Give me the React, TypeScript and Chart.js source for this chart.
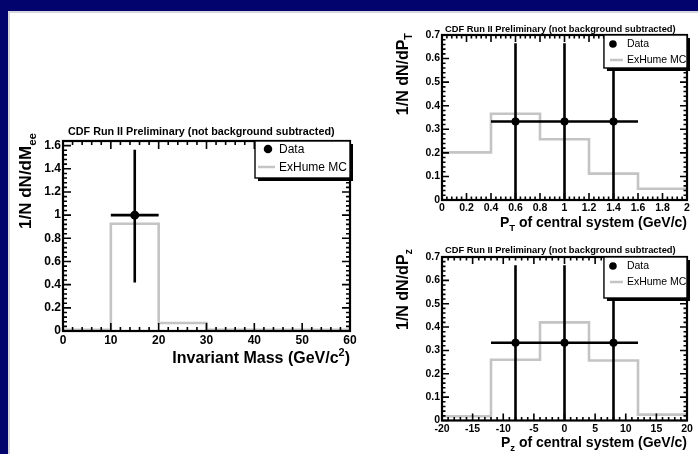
import React, { useEffect, useRef } from "react";
import { Chart, registerables } from "chart.js";

Chart.register(...registerables);

// ---------------- Panel 1 : invariant mass ----------------
const massBinEdges = [0, 10, 20, 30, 40, 50, 60];
const massMCValues = [0.01, 0.926, 0.069, 0.01, 0.01, 0.01];
const massDataX = [15];
const massDataY = [1.0];
const massDataXLow = [10];
const massDataXHigh = [20];
const massDataYLow = [0.418];
const massDataYHigh = [1.565];
const massXTicks = [0, 10, 20, 30, 40, 50, 60];
const massXTickLabels = ["0", "10", "20", "30", "40", "50", "60"];
const massYTicks = [0, 0.2, 0.4, 0.6, 0.8, 1, 1.2, 1.4, 1.6];
const massYTickLabels = ["0", "0.2", "0.4", "0.6", "0.8", "1", "1.2", "1.4", "1.6"];

// ---------------- Panel 2 : PT of central system ----------------
const ptBinEdges = [0, 0.4, 0.8, 1.2, 1.6, 2.0];
const ptMCValues = [0.202, 0.366, 0.258, 0.112, 0.048];
const ptDataX = [0.6, 1.0, 1.4];
const ptDataY = [0.333, 0.333, 0.333];
const ptDataXLow = [0.4, 0.8, 1.2];
const ptDataXHigh = [0.8, 1.2, 1.6];
const ptDataYLow = [0, 0, 0];
const ptDataYHigh = [0.665, 0.665, 0.665];
const ptXTicks = [0, 0.2, 0.4, 0.6, 0.8, 1, 1.2, 1.4, 1.6, 1.8, 2];
const ptXTickLabels = ["0", "0.2", "0.4", "0.6", "0.8", "1", "1.2", "1.4", "1.6", "1.8", "2"];
const ptYTicks = [0, 0.1, 0.2, 0.3, 0.4, 0.5, 0.6, 0.7];
const ptYTickLabels = ["0", "0.1", "0.2", "0.3", "0.4", "0.5", "0.6", "0.7"];

// ---------------- Panel 3 : Pz of central system ----------------
const pzBinEdges = [-20, -12, -4, 4, 12, 20];
const pzMCValues = [0.018, 0.26, 0.42, 0.257, 0.025];
const pzDataX = [-8, 0, 8];
const pzDataY = [0.333, 0.333, 0.333];
const pzDataXLow = [-12, -4, 4];
const pzDataXHigh = [-4, 4, 12];
const pzDataYLow = [0, 0, 0];
const pzDataYHigh = [0.665, 0.665, 0.665];
const pzXTicks = [-20, -15, -10, -5, 0, 5, 10, 15, 20];
const pzXTickLabels = ["-20", "-15", "-10", "-5", "0", "5", "10", "15", "20"];
const pzYTicks = [0, 0.1, 0.2, 0.3, 0.4, 0.5, 0.6, 0.7];
const pzYTickLabels = ["0", "0.1", "0.2", "0.3", "0.4", "0.5", "0.6", "0.7"];

const plotTitle = "CDF Run II Preliminary (not background subtracted)";
const legendDataLabel = "Data";
const legendMCLabel = "ExHume MC";

const FAM = "'Liberation Sans', Arial, Helvetica, sans-serif";
const MC_COLOR = "#c4c4c4";

type Seg = { text: string; kind?: "sub" | "sup" };

interface PanelCfg {
  edges: number[];
  mc: number[];
  dx: number[];
  dy: number[];
  dxl: number[];
  dxh: number[];
  dyl: number[];
  dyh: number[];
  xTicks: number[];
  xTickLabels: string[];
  yTicks: number[];
  yTickLabels: string[];
  xMin: number;
  xMax: number;
  yMin: number;
  yMax: number;
  xMinor: number;
  yMinor: number;
  padding: { left: number; right: number; top: number; bottom: number };
  tickSize: number;
  majorLen: number;
  minorLen: number;
  pointRadius: number;
  title: { x0: number; x1: number; y: number };
  xTitle: Seg[];
  xTitleSize: number;
  xTitleRight: number;
  xTitleBase: number;
  yTitle: Seg[];
  yTitleSize: number;
  yTitleBase: number;
  yTitleTop: number;
  legend: {
    fx0: number;
    h: number;
    row1: number;
    row2: number;
    marker: number;
    line0: number;
    line1: number;
    text: number;
    size: number;
  };
}

function drawRich(
  ctx: CanvasRenderingContext2D,
  segs: Seg[],
  size: number,
  ax: number,
  ay: number,
  rotated: boolean
) {
  const fontFor = (s: Seg) => `bold ${s.kind ? size * 0.68 : size}px ${FAM}`;
  let total = 0;
  const widths: number[] = [];
  for (const s of segs) {
    ctx.font = fontFor(s);
    const w = ctx.measureText(s.text).width;
    widths.push(w);
    total += w;
  }
  ctx.save();
  ctx.translate(ax, ay);
  if (rotated) ctx.rotate(-Math.PI / 2);
  ctx.fillStyle = "#000";
  ctx.textAlign = "left";
  ctx.textBaseline = "alphabetic";
  let x = -total;
  segs.forEach((s, i) => {
    ctx.font = fontFor(s);
    const dy = s.kind === "sub" ? size * 0.28 : s.kind === "sup" ? -size * 0.45 : 0;
    ctx.fillText(s.text, x, dy);
    x += widths[i];
  });
  ctx.restore();
}

function makePlugin(cfg: PanelCfg) {
  return {
    id: "rootStyle",
    afterDatasetsDraw(chart: any) {
      const ctx: CanvasRenderingContext2D = chart.ctx;
      const xs = chart.scales.x;
      const ys = chart.scales.y;
      ctx.save();
      ctx.strokeStyle = "#000";
      ctx.lineWidth = 2.6;
      ctx.lineCap = "butt";
      cfg.dx.forEach((xv, i) => {
        const px = xs.getPixelForValue(xv);
        const py = ys.getPixelForValue(cfg.dy[i]);
        ctx.beginPath();
        ctx.moveTo(xs.getPixelForValue(cfg.dxl[i]), py);
        ctx.lineTo(xs.getPixelForValue(cfg.dxh[i]), py);
        ctx.moveTo(px, ys.getPixelForValue(cfg.dyl[i]));
        ctx.lineTo(px, ys.getPixelForValue(cfg.dyh[i]));
        ctx.stroke();
      });
      ctx.restore();
    },
    afterDraw(chart: any) {
      const ctx: CanvasRenderingContext2D = chart.ctx;
      const xs = chart.scales.x;
      const ys = chart.scales.y;
      const { left, right, top, bottom } = chart.chartArea;
      ctx.save();
      ctx.strokeStyle = "#000";
      ctx.lineWidth = 1.6;
      // ticks (inward, mirrored on all sides)
      const near = (v: number, arr: number[]) => arr.some((a) => Math.abs(a - v) < 1e-6);
      ctx.beginPath();
      const nx = Math.round((cfg.xMax - cfg.xMin) / cfg.xMinor);
      for (let k = 0; k <= nx; k++) {
        const v = cfg.xMin + k * cfg.xMinor;
        const len = near(v, cfg.xTicks) ? cfg.majorLen : cfg.minorLen;
        const p = xs.getPixelForValue(v);
        ctx.moveTo(p, bottom);
        ctx.lineTo(p, bottom - len);
        ctx.moveTo(p, top);
        ctx.lineTo(p, top + len);
      }
      const ny = Math.round((cfg.yMax - cfg.yMin) / cfg.yMinor);
      for (let k = 0; k <= ny; k++) {
        const v = cfg.yMin + k * cfg.yMinor;
        if (v > cfg.yMax + 1e-9) break;
        const len = near(v, cfg.yTicks) ? cfg.majorLen : cfg.minorLen;
        const p = ys.getPixelForValue(v);
        ctx.moveTo(left, p);
        ctx.lineTo(left + len, p);
        ctx.moveTo(right, p);
        ctx.lineTo(right - len, p);
      }
      ctx.stroke();
      // frame
      ctx.lineWidth = 2.2;
      ctx.strokeRect(left, top, right - left, bottom - top);

      // legend
      const L = cfg.legend;
      const lx0 = left + L.fx0 * (right - left);
      const lx1 = right;
      const ly0 = top;
      const ly1 = top + L.h;
      ctx.fillStyle = "#000";
      ctx.fillRect(lx0 + 3, ly0 + 3, lx1 - lx0, ly1 - ly0);
      ctx.fillStyle = "#fff";
      ctx.fillRect(lx0, ly0, lx1 - lx0, ly1 - ly0);
      ctx.lineWidth = 1.4;
      ctx.strokeRect(lx0, ly0, lx1 - lx0, ly1 - ly0);
      ctx.fillStyle = "#000";
      ctx.beginPath();
      ctx.arc(lx0 + L.marker, ly0 + L.row1, cfg.pointRadius * 0.95, 0, Math.PI * 2);
      ctx.fill();
      ctx.strokeStyle = MC_COLOR;
      ctx.lineWidth = 2.5;
      ctx.beginPath();
      ctx.moveTo(lx0 + L.line0, ly0 + L.row2);
      ctx.lineTo(lx0 + L.line1, ly0 + L.row2);
      ctx.stroke();
      ctx.fillStyle = "#000";
      ctx.font = `${L.size}px ${FAM}`;
      ctx.textAlign = "left";
      ctx.textBaseline = "middle";
      ctx.fillText(legendDataLabel, lx0 + L.text, ly0 + L.row1 + 0.5);
      ctx.fillText(legendMCLabel, lx0 + L.text, ly0 + L.row2 + 0.5);

      // title fitted to width
      ctx.font = `bold 10px ${FAM}`;
      const w10 = ctx.measureText(plotTitle).width;
      const ts = (10 * (cfg.title.x1 - cfg.title.x0)) / w10;
      ctx.font = `bold ${ts}px ${FAM}`;
      ctx.textBaseline = "middle";
      ctx.fillText(plotTitle, cfg.title.x0, cfg.title.y);

      // axis titles
      drawRich(ctx, cfg.xTitle, cfg.xTitleSize, cfg.xTitleRight, cfg.xTitleBase, false);
      drawRich(ctx, cfg.yTitle, cfg.yTitleSize, cfg.yTitleBase, cfg.yTitleTop, true);
      ctx.restore();
    },
  };
}

function Panel({ cfg }: { cfg: PanelCfg }) {
  const ref = useRef<HTMLCanvasElement>(null);
  useEffect(() => {
    const canvas = ref.current!;
    const tickFont = { family: FAM, weight: "bold" as const, size: cfg.tickSize };
    const chart = new Chart(canvas, {
      type: "scatter",
      data: {
        datasets: [
          {
            label: legendDataLabel,
            data: cfg.dx.map((x, i) => ({ x, y: cfg.dy[i] })),
            pointRadius: cfg.pointRadius,
            pointBackgroundColor: "#000",
            pointBorderColor: "#000",
            pointBorderWidth: 0,
            showLine: false,
            order: 0,
          },
          {
            label: legendMCLabel,
            data: cfg.edges.map((e, i) => ({ x: e, y: cfg.mc[Math.min(i, cfg.mc.length - 1)] })),
            showLine: true,
            stepped: true,
            borderColor: MC_COLOR,
            borderWidth: 2.6,
            pointRadius: 0,
            fill: false,
            order: 1,
          } as any,
        ],
      },
      options: {
        animation: false,
        responsive: false,
        devicePixelRatio: 1,
        events: [],
        layout: { padding: cfg.padding },
        plugins: {
          legend: { display: false },
          title: { display: false },
          tooltip: { enabled: false },
        },
        scales: {
          x: {
            type: "linear",
            min: cfg.xMin,
            max: cfg.xMax,
            afterFit: (s: any) => {
              s.height = 18;
            },
            afterBuildTicks: (s: any) => {
              s.ticks = cfg.xTicks.map((v) => ({ value: v }));
            },
            ticks: {
              autoSkip: false,
              maxRotation: 0,
              minRotation: 0,
              padding: 2,
              color: "#000",
              font: tickFont,
              callback: (_v: any, i: number) => cfg.xTickLabels[i],
            },
            grid: { display: false, drawTicks: false },
            border: { display: false },
          },
          y: {
            type: "linear",
            min: cfg.yMin,
            max: cfg.yMax,
            afterFit: (s: any) => {
              s.width = 30;
            },
            afterBuildTicks: (s: any) => {
              s.ticks = cfg.yTicks.map((v) => ({ value: v }));
            },
            ticks: {
              autoSkip: false,
              padding: 2,
              color: "#000",
              font: tickFont,
              callback: (_v: any, i: number) => cfg.yTickLabels[i],
            },
            grid: { display: false, drawTicks: false },
            border: { display: false },
          },
        },
      },
      plugins: [makePlugin(cfg)],
    } as any);
    return () => chart.destroy();
  }, []);
  return (
    <canvas
      ref={ref}
      width={698}
      height={454}
      style={{ position: "absolute", left: 0, top: 0, width: 698, height: 454 }}
    />
  );
}

const massCfg: PanelCfg = {
  edges: massBinEdges,
  mc: massMCValues,
  dx: massDataX,
  dy: massDataY,
  dxl: massDataXLow,
  dxh: massDataXHigh,
  dyl: massDataYLow,
  dyh: massDataYHigh,
  xTicks: massXTicks,
  xTickLabels: massXTickLabels,
  yTicks: massYTicks,
  yTickLabels: massYTickLabels,
  xMin: 0,
  xMax: 60,
  yMin: 0,
  yMax: 1.64,
  xMinor: 2,
  yMinor: 0.04,
  padding: { left: 33, right: 348, top: 141, bottom: 105 },
  tickSize: 12,
  majorLen: 8,
  minorLen: 4,
  pointRadius: 4.5,
  title: { x0: 68, x1: 335, y: 132 },
  xTitle: [{ text: "Invariant Mass (GeV/c" }, { text: "2", kind: "sup" }, { text: ")" }],
  xTitleSize: 16,
  xTitleRight: 350,
  xTitleBase: 363,
  yTitle: [{ text: "1/N dN/dM" }, { text: "ee", kind: "sub" }],
  yTitleSize: 17,
  yTitleBase: 31,
  yTitleTop: 133,
  legend: { fx0: 0.669, h: 37, row1: 8, row2: 26, marker: 13, line0: 3, line1: 20, text: 24, size: 12 },
};

const ptCfg: PanelCfg = {
  edges: ptBinEdges,
  mc: ptMCValues,
  dx: ptDataX,
  dy: ptDataY,
  dxl: ptDataXLow,
  dxh: ptDataXHigh,
  dyl: ptDataYLow,
  dyh: ptDataYHigh,
  xTicks: ptXTicks,
  xTickLabels: ptXTickLabels,
  yTicks: ptYTicks,
  yTickLabels: ptYTickLabels,
  xMin: 0,
  xMax: 2,
  yMin: 0,
  yMax: 0.7,
  xMinor: 0.04,
  yMinor: 0.02,
  padding: { left: 412, right: 11, top: 35, bottom: 236 },
  tickSize: 10.5,
  majorLen: 7,
  minorLen: 3.5,
  pointRadius: 4,
  title: { x0: 445, x1: 676, y: 29.5 },
  xTitle: [{ text: "P" }, { text: "T", kind: "sub" }, { text: " of central system (GeV/c)" }],
  xTitleSize: 14,
  xTitleRight: 687,
  xTitleBase: 227,
  yTitle: [{ text: "1/N dN/dP" }, { text: "T", kind: "sub" }],
  yTitleSize: 16,
  yTitleBase: 408,
  yTitleTop: 33,
  legend: { fx0: 0.661, h: 33, row1: 9, row2: 25, marker: 9, line0: 6, line1: 19, text: 23, size: 10.5 },
};

const pzCfg: PanelCfg = {
  edges: pzBinEdges,
  mc: pzMCValues,
  dx: pzDataX,
  dy: pzDataY,
  dxl: pzDataXLow,
  dxh: pzDataXHigh,
  dyl: pzDataYLow,
  dyh: pzDataYHigh,
  xTicks: pzXTicks,
  xTickLabels: pzXTickLabels,
  yTicks: pzYTicks,
  yTickLabels: pzYTickLabels,
  xMin: -20,
  xMax: 20,
  yMin: 0,
  yMax: 0.7,
  xMinor: 1,
  yMinor: 0.02,
  padding: { left: 412, right: 11, top: 257, bottom: 15.5 },
  tickSize: 10.5,
  majorLen: 7,
  minorLen: 3.5,
  pointRadius: 4,
  title: { x0: 445, x1: 676, y: 250 },
  xTitle: [{ text: "P" }, { text: "z", kind: "sub" }, { text: " of central system (GeV/c)" }],
  xTitleSize: 14,
  xTitleRight: 687,
  xTitleBase: 447,
  yTitle: [{ text: "1/N dN/dP" }, { text: "z", kind: "sub" }],
  yTitleSize: 16,
  yTitleBase: 408,
  yTitleTop: 249,
  legend: { fx0: 0.661, h: 41, row1: 9, row2: 25, marker: 9, line0: 6, line1: 19, text: 23, size: 10.5 },
};

export default function App() {
  return (
    <div
      style={{
        position: "absolute",
        left: 0,
        top: 0,
        width: 698,
        height: 454,
        overflow: "hidden",
        background: "#03036e",
      }}
    >
      <div
        style={{
          position: "absolute",
          left: 8,
          top: 11,
          right: 0,
          bottom: 0,
          background: "#fff",
          borderLeft: "2px solid #d6d6de",
          borderTop: "2px solid #d6d6de",
        }}
      />
      <Panel cfg={massCfg} />
      <Panel cfg={ptCfg} />
      <Panel cfg={pzCfg} />
    </div>
  );
}
